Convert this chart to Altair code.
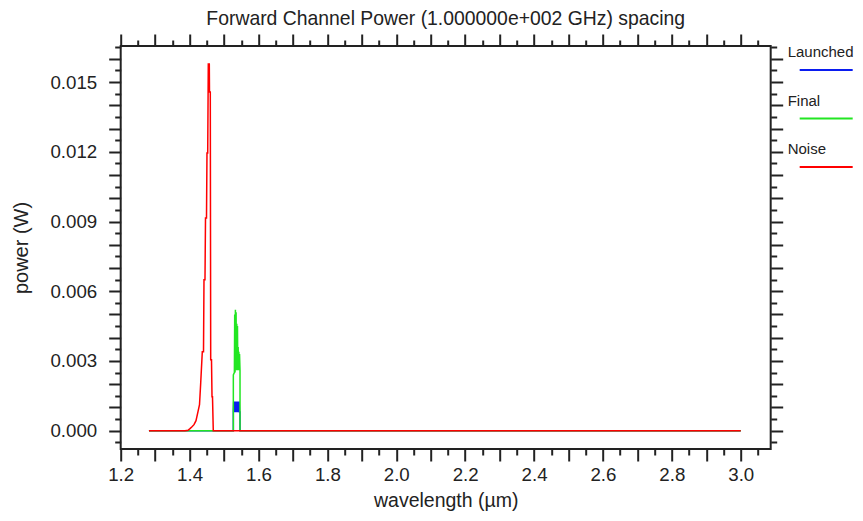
import altair as alt
import pandas as pd

# ---- data ----
series_names = ["Launched", "Final", "Noise"]
series_colors = ["#0a1cf0", "#22e622", "#ff0000"]

launched_wl = [1.282, 1.5270, 1.5270, 1.5280, 1.5290, 1.5300, 1.5310, 1.5320, 1.5330, 1.5340,
               1.5350, 1.5360, 1.5370, 1.5380, 1.5390, 1.5400, 1.5410, 1.5420, 1.5430, 1.5440,
               1.5450, 1.5464, 1.5464, 3.0]
launched_pw = [0, 0, 0.0008, 0.00126, 0.0008, 0.00126, 0.0008, 0.00126, 0.0008, 0.00126,
               0.0008, 0.00126, 0.0008, 0.00126, 0.0008, 0.00126, 0.0008, 0.00126, 0.0008, 0.00126,
               0.0008, 0.0008, 0, 0]

final_wl = [1.282, 1.5270, 1.5270, 1.5300, 1.5310, 1.5320, 1.5330, 1.5340, 1.5350, 1.5360,
            1.5370, 1.5380, 1.5390, 1.5400, 1.5410, 1.5420, 1.5430, 1.5440, 1.5450, 1.5464,
            1.5464, 3.0]
final_pw = [0, 0, 0.0024, 0.0025, 0.0050, 0.0025, 0.0052, 0.0026, 0.0051, 0.0026,
            0.0046, 0.0026, 0.0045, 0.0026, 0.0036, 0.0026, 0.0034, 0.0026, 0.0033, 0.0026,
            0, 0]

noise_wl = [1.282, 1.3867, 1.3954, 1.4012, 1.4070, 1.4128, 1.4186, 1.4244, 1.4288, 1.4323,
            1.4369, 1.4404, 1.4418, 1.4447, 1.4462, 1.4491, 1.4505, 1.4526, 1.4543, 1.4572,
            1.4578, 1.4601, 1.4613, 1.4636, 1.4651, 1.4665, 1.4688, 3.0]
noise_pw = [0, 0, 0.00002, 0.00009, 0.00017, 0.00026, 0.00043, 0.00082, 0.00112, 0.00206,
            0.00340, 0.00340, 0.00649, 0.00649, 0.00915, 0.00915, 0.01195, 0.01195, 0.01578, 0.01578,
            0.01457, 0.01457, 0.00305, 0.00305, 0.00146, 0.00146, 0, 0]

x_ticks = [1.2, 1.25, 1.3, 1.35, 1.4, 1.45, 1.5, 1.55, 1.6, 1.65, 1.7, 1.75, 1.8, 1.85, 1.9,
           1.95, 2.0, 2.05, 2.1, 2.15, 2.2, 2.25, 2.3, 2.35, 2.4, 2.45, 2.5, 2.55, 2.6, 2.65,
           2.7, 2.75, 2.8, 2.85, 2.9, 2.95, 3.0, 3.05]
y_ticks = [-0.0005, 0.0, 0.0005, 0.001, 0.0015, 0.002, 0.0025, 0.003, 0.0035, 0.004, 0.0045,
           0.005, 0.0055, 0.006, 0.0065, 0.007, 0.0075, 0.008, 0.0085, 0.009, 0.0095, 0.01,
           0.0105, 0.011, 0.0115, 0.012, 0.0125, 0.013, 0.0135, 0.014, 0.0145, 0.015, 0.0155,
           0.016, 0.0165]

x_domain = [1.2, 3.087]
y_domain = [-0.000787, 0.01655]

title_text = "Forward Channel Power (1.000000e+002 GHz) spacing"
x_title = "wavelength (\u00b5m)"
y_title = "power (W)"

FONT = "Liberation Sans"
INK = "#222222"


def frame(name, wl, pw):
    return pd.DataFrame({"wl": wl, "pw": pw, "i": list(range(len(wl))), "series": name})


df_l = frame("Launched", launched_wl, launched_pw)
df_f = frame("Final", final_wl, final_pw)
df_n = frame("Noise", noise_wl, noise_pw)

xs = alt.Scale(domain=x_domain, nice=False, zero=False)
ys = alt.Scale(domain=y_domain, nice=False, zero=False)

x_tick_size = {"condition": {"test": "abs(datum.value*10 - round(datum.value*10)) < 0.001", "value": 12}, "value": 6}
y_tick_size = {"condition": {"test": "abs(datum.value*1000 - round(datum.value*1000)) < 0.01", "value": 12}, "value": 6}

common_axis = dict(domain=False, grid=False, tickColor=INK, tickWidth=2, labelFont=FONT,
                   labelColor=INK, labelOverlap=False, labelFlush=False, labelBound=False,
                   titleFont=FONT, titleColor=INK, titleFontWeight="normal")

ax_bottom = alt.Axis(orient="bottom", values=x_ticks, tickSize=x_tick_size,
                     labelExpr="abs(datum.value*5 - round(datum.value*5)) < 0.001 ? format(datum.value, '.1f') : ''",
                     labelFontSize=18.7, labelPadding=5, title=x_title, titleFontSize=19.5, titlePadding=7,
                     **common_axis)
ax_top = alt.Axis(orient="top", values=x_ticks, tickSize=x_tick_size, labels=False, title=None,
                  **common_axis)
ax_left = alt.Axis(orient="left", values=y_ticks, tickSize=y_tick_size,
                   labelExpr="abs(datum.value*1000/3 - round(datum.value*1000/3)) < 0.01 ? format(datum.value, '.3f') : ''",
                   labelFontSize=18.7, labelPadding=12, title=y_title, titleFontSize=20, titlePadding=18,
                   **common_axis)
ax_right = alt.Axis(orient="right", values=y_ticks, tickSize=y_tick_size, labels=False, title=None,
                    **common_axis)

# legend: label above a short line, drawn with a custom symbol path
legend = alt.Legend(title=None, orient="none", legendX=651, legendY=-2,
                    symbolType="M2.857,2.5714H10.429", symbolSize=196, symbolStrokeWidth=2,
                    symbolOffset=0,
                    labelFont=FONT, labelFontSize=15, labelColor=INK,
                    labelOffset=0, labelBaseline="middle",
                    rowPadding=18.5, padding=0)

color = alt.Color("series:N", scale=alt.Scale(domain=series_names, range=series_colors), legend=legend)

layer_l = alt.Chart(df_l).mark_line(strokeWidth=1.5).encode(
    x=alt.X("wl:Q", scale=xs, axis=ax_bottom),
    y=alt.Y("pw:Q", scale=ys, axis=ax_left),
    color=color, order=alt.Order("i:Q"))
layer_f = alt.Chart(df_f).mark_line(strokeWidth=1.5).encode(
    x=alt.X("wl:Q", scale=xs, axis=ax_top),
    y=alt.Y("pw:Q", scale=ys, axis=ax_right),
    color=color, order=alt.Order("i:Q"))
layer_n = alt.Chart(df_n).mark_line(strokeWidth=1.5).encode(
    x=alt.X("wl:Q", scale=xs, axis=None),
    y=alt.Y("pw:Q", scale=ys, axis=None),
    color=color, order=alt.Order("i:Q"))

chart = alt.layer(layer_l, layer_f, layer_n).resolve_axis(
    x="independent", y="independent"
).properties(
    width=650, height=403,
    title=alt.TitleParams(text=title_text, font=FONT, fontSize=19.4, fontWeight="normal",
                          color=INK, anchor="middle", frame="group", offset=4),
    autosize=alt.AutoSizeParams(type="none"),
    padding={"left": 112.7, "top": 38, "right": 84, "bottom": 64},
).configure_view(stroke=INK, strokeWidth=2)

chart.save("out.html", embed_options={"renderer": "svg", "actions": False})
